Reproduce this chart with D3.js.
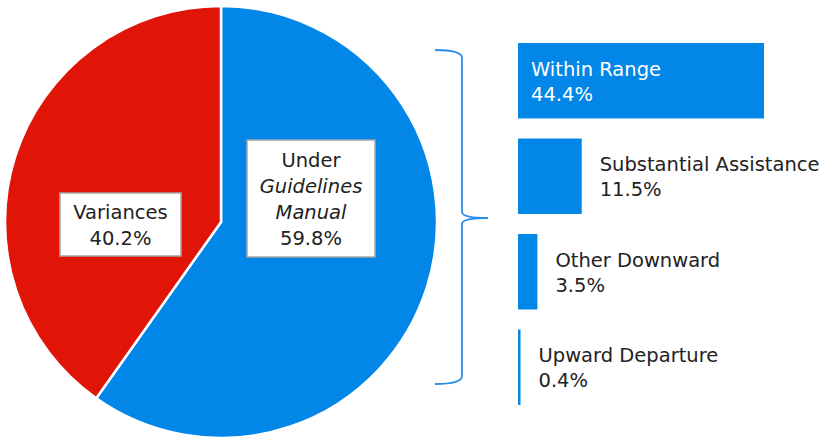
<!DOCTYPE html>
<html>
<head>
<meta charset="utf-8">
<script src="https://cdn.jsdelivr.net/npm/d3@7"></script>
<style>
  html, body { margin: 0; padding: 0; background: #fff; }
  svg { display: block; }
  text { font-family: "DejaVu Sans", sans-serif; }
</style>
</head>
<body>
<svg id="chart" width="828" height="438"></svg>
<script>
// pie data
const pieLabels = [['Under', 'Guidelines', 'Manual'], ['Variances']];
const pieValues = [59.8, 40.2];
const pieColors = ['#0287e8', '#e01407'];

// breakdown of the variances / within range
const barCategories = ['Within Range', 'Substantial Assistance', 'Other Downward', 'Upward Departure'];
const barValues = [44.4, 11.5, 3.5, 0.4];

const svg = d3.select('#chart');
const cx = 221, cy = 222, radius = 216;
const fontSize = 19.5;

const pie = d3.pie().sort(null).value(d => d);
const arc = d3.arc().innerRadius(0).outerRadius(radius);

const g = svg.append('g').attr('transform', `translate(${cx},${cy})`);
g.selectAll('path')
  .data(pie(pieValues))
  .enter()
  .append('path')
  .attr('d', arc)
  .attr('fill', (d, i) => pieColors[i])
  .attr('stroke', '#fff')
  .attr('stroke-width', 2.5);

// label boxes inside the slices
const boxes = [
  { x: 90, y: -23.5, w: 128, h: 117 },
  { x: -100.5, y: 2.5, w: 121, h: 63 }
];
pieValues.forEach((v, i) => {
  const b = boxes[i];
  const lg = g.append('g').attr('transform', `translate(${b.x},${b.y})`);
  lg.append('rect')
    .attr('x', -b.w / 2).attr('y', -b.h / 2)
    .attr('width', b.w).attr('height', b.h)
    .attr('fill', '#fff')
    .attr('stroke', '#a6a6a6')
    .attr('stroke-width', 1.5);
  const lines = pieLabels[i].concat([v.toFixed(1) + '%']);
  const lh = 26;
  lines.forEach((t, j) => {
    lg.append('text')
      .attr('x', 0)
      .attr('y', (j - (lines.length - 1) / 2) * lh + 7)
      .attr('text-anchor', 'middle')
      .attr('font-size', fontSize)
      .attr('font-style', (i === 0 && j > 0 && j < 3) ? 'italic' : 'normal')
      .attr('fill', '#222')
      .text(t);
  });
});

// brace
const braceTop = 50, braceBot = 384, braceX = 462, tipX = 488;
const braceMid = (braceTop + braceBot) / 2 + 1;
svg.append('path')
  .attr('d', `M435,${braceTop} Q${braceX},${braceTop} ${braceX},${braceTop + 8}
              L${braceX},${braceMid - 6} Q${braceX},${braceMid} ${tipX},${braceMid}
              Q${braceX},${braceMid} ${braceX},${braceMid + 6}
              L${braceX},${braceBot - 8} Q${braceX},${braceBot} 435,${braceBot}`)
  .attr('fill', 'none')
  .attr('stroke', '#2a8de6')
  .attr('stroke-width', 1.8);

// bars
const x = d3.scaleLinear().domain([0, 44.4]).range([0, 246]);
const y = d3.scaleBand().domain(barCategories).range([43, 405]).paddingInner(0.21);
const barX = 518;

const bars = svg.append('g');
bars.selectAll('rect')
  .data(barCategories)
  .enter()
  .append('rect')
  .attr('x', barX)
  .attr('y', d => y(d))
  .attr('width', (d, i) => Math.max(x(barValues[i]), 2.5))
  .attr('height', y.bandwidth())
  .attr('fill', '#0287e8');

barCategories.forEach((c, i) => {
  const inside = i === 0;
  const tx = inside ? barX + 13 : barX + Math.max(x(barValues[i]), 2.5) + 18;
  const ty = y(c) + y.bandwidth() / 2;
  const t = svg.append('text')
    .attr('x', tx)
    .attr('font-size', fontSize)
    .attr('fill', inside ? '#fff' : '#222');
  t.append('tspan').attr('x', tx).attr('y', ty - 5).text(c);
  t.append('tspan').attr('x', tx).attr('y', ty + 20).text(barValues[i].toFixed(1) + '%');
});
</script>
</body>
</html>
